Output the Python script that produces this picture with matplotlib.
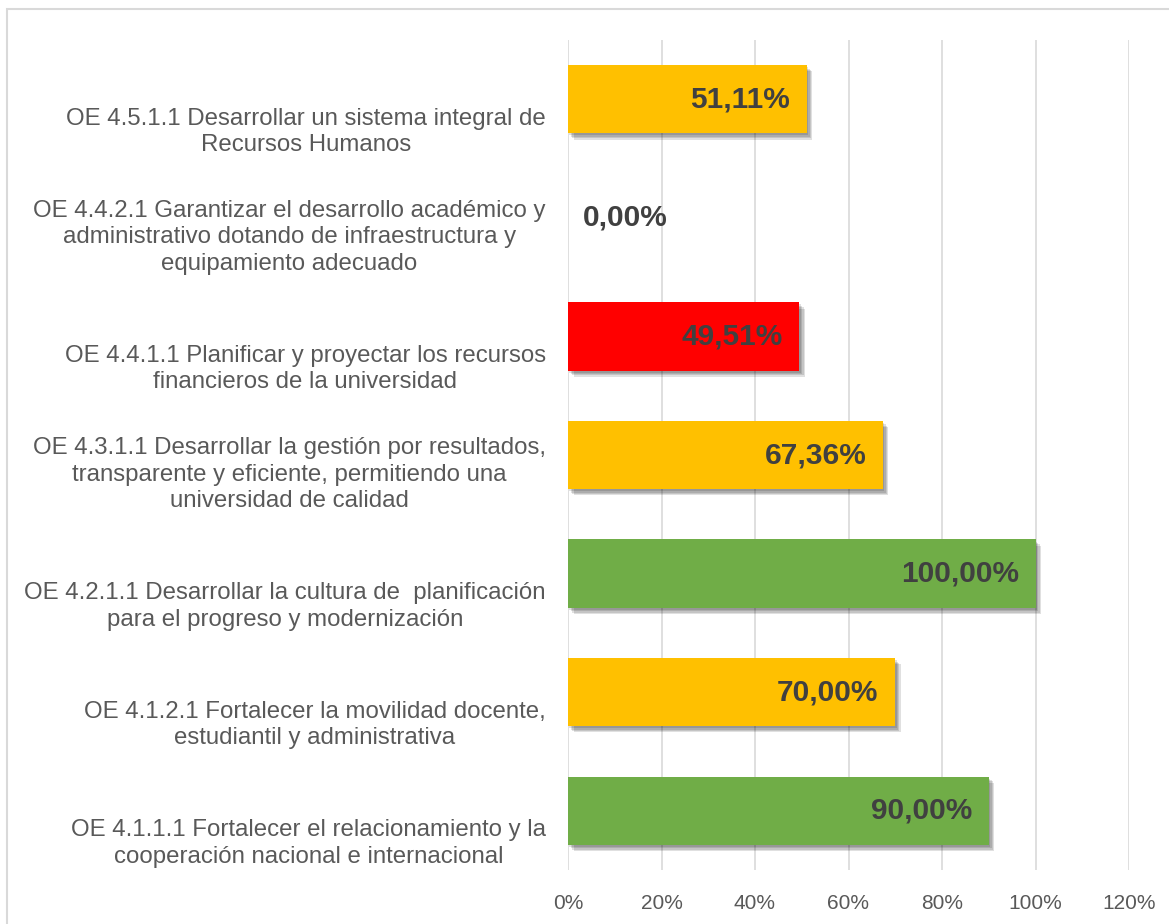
import matplotlib
matplotlib.use("Agg")
import matplotlib.pyplot as plt
import matplotlib.patheffects as pe
from matplotlib.patches import Rectangle

plt.rcParams["font.family"] = ["Liberation Sans", "DejaVu Sans"]

# categories listed bottom -> top
categories = [
    "OE 4.1.1.1 Fortalecer el relacionamiento y la\ncooperación nacional e internacional",
    "OE 4.1.2.1 Fortalecer la movilidad docente,\nestudiantil y administrativa",
    "OE 4.2.1.1 Desarrollar la cultura de  planificación\npara el progreso y modernización",
    "OE 4.3.1.1 Desarrollar la gestión por resultados,\ntransparente y eficiente, permitiendo una\nuniversidad de calidad",
    "OE 4.4.1.1 Planificar y proyectar los recursos\nfinancieros de la universidad",
    "OE 4.4.2.1 Garantizar el desarrollo académico y\nadministrativo dotando de infraestructura y\nequipamiento adecuado",
    "OE 4.5.1.1 Desarrollar un sistema integral de\nRecursos Humanos",
]
values = [0.90, 0.70, 1.00, 0.6736, 0.4951, 0.0, 0.5111]
value_labels = ["90,00%", "70,00%", "100,00%", "67,36%", "49,51%", "0,00%", "51,11%"]
bar_colors = ["#70AD47", "#FFC000", "#70AD47", "#FFC000", "#FF0000", "#FFC000", "#FFC000"]
x_ticks = [0, 0.2, 0.4, 0.6, 0.8, 1.0, 1.2]
x_tick_labels = ["0%", "20%", "40%", "60%", "80%", "100%", "120%"]

fig = plt.figure(figsize=(11.69, 9.24), dpi=100)
ax = fig.add_axes([568 / 1169, 1 - 870 / 924, (1129 - 568) / 1169, 830 / 924])

# light frame around the chart (runs off the right/bottom edge)
fig.patches.append(Rectangle((7 / 1169, -0.05), 1.2, 1 - 9 / 924 + 0.05,
                             transform=fig.transFigure, fill=False,
                             edgecolor="#D9D9D9", linewidth=1.5))

y = list(range(len(categories)))
bars = ax.barh(y, values, height=0.575, color=bar_colors, zorder=3)
# soft drop shadow: a few stacked offsets to fake a blur
shadow = [pe.SimplePatchShadow(offset=(o, -o - 0.5), shadow_rgbFace="black", alpha=0.12)
          for o in (1.0, 2.0, 3.0, 4.0)]
for b in bars:
    b.set_path_effects(shadow + [pe.Normal()])

for yi, v, lab in zip(y, values, value_labels):
    if v == 0:
        ax.annotate(lab, (v, yi), xytext=(11, 0), textcoords="offset points",
                    ha="left", va="center", fontsize=21.5, fontweight="bold",
                    color="#404040", zorder=4)
    else:
        ax.annotate(lab, (v, yi), xytext=(-12, 0), textcoords="offset points",
                    ha="right", va="center", fontsize=21.5, fontweight="bold",
                    color="#404040", zorder=4)

# category labels: the last line of each sits a bit below the bar centre
for yi, cat in zip(y, categories):
    ax.annotate(cat, (0, yi), xycoords=("axes fraction", "data"),
                xytext=(-16, -41), textcoords="offset points",
                ha="right", va="bottom", multialignment="center",
                fontsize=17.3, color="#595959", linespacing=1.26,
                annotation_clip=False)

ax.set_xlim(0, 1.2)
ax.set_ylim(-0.5, len(categories) - 0.5)
ax.set_xticks(x_ticks)
ax.set_xticklabels(x_tick_labels, fontsize=15, color="#595959")
ax.set_yticks(y)
ax.set_yticklabels([])
ax.tick_params(axis="both", length=0)
ax.tick_params(axis="x", pad=17)
ax.grid(axis="x", color="#D9D9D9", linewidth=1.2, zorder=0)
for s in ax.spines.values():
    s.set_visible(False)

fig.savefig("out.png", dpi=100)
